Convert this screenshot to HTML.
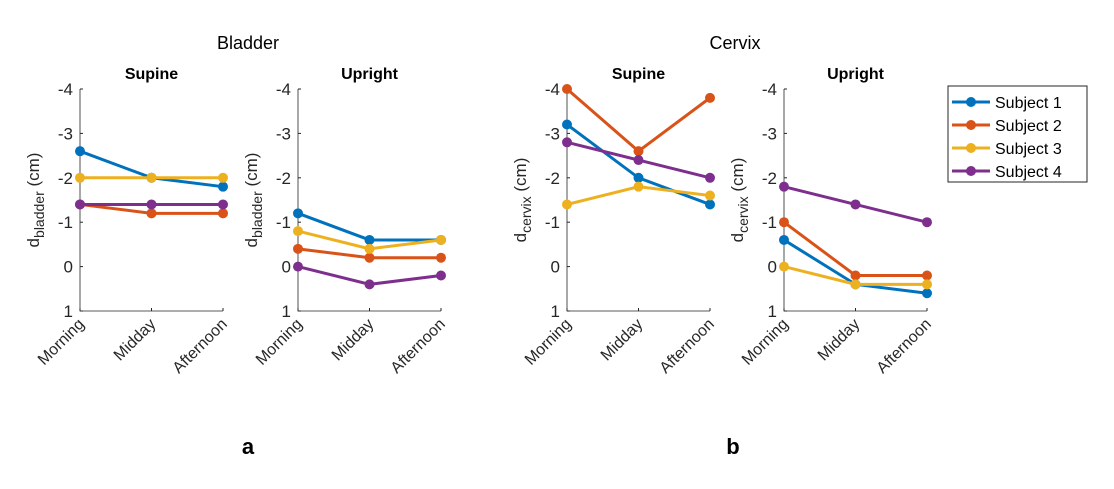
<!DOCTYPE html>
<html><head><meta charset="utf-8"><style>
body{margin:0;background:#fff;width:1114px;height:484px;overflow:hidden}
svg{font-family:"Liberation Sans",sans-serif}
</style></head><body>
<svg id="chart" width="1114" height="484" xmlns="http://www.w3.org/2000/svg"></svg>
<script>
const categories=["Morning","Midday","Afternoon"];
const subjects=["Subject 1","Subject 2","Subject 3","Subject 4"];
const colors=["#0072bd","#d95319","#edb120","#7e2f8e"];
const yTicks=[-4,-3,-2,-1,0,1];
const bladderSupine=[[-2.6,-2.0,-1.8],[-1.4,-1.2,-1.2],[-2.0,-2.0,-2.0],[-1.4,-1.4,-1.4]];
const bladderUpright=[[-1.2,-0.6,-0.6],[-0.4,-0.2,-0.2],[-0.8,-0.4,-0.6],[0,0.4,0.2]];
const cervixSupine=[[-3.2,-2.0,-1.4],[-4.0,-2.6,-3.8],[-1.4,-1.8,-1.6],[-2.8,-2.4,-2.0]];
const cervixUpright=[[-0.6,0.4,0.6],[-1.0,0.2,0.2],[0,0.4,0.4],[-1.8,-1.4,-1.0]];
const svg=document.getElementById('chart');
const NS="http://www.w3.org/2000/svg";
function mk(tag,attrs,parent,text){const e=document.createElementNS(NS,tag);for(const k in attrs)e.setAttribute(k,attrs[k]);if(text!==undefined)e.textContent=text;(parent||svg).appendChild(e);return e;}
const panels=[
 {x0:80,title:"Supine",data:bladderSupine,lab:"bladder",name:"bladder-supine"},
 {x0:298,title:"Upright",data:bladderUpright,lab:"bladder",name:"bladder-upright"},
 {x0:567,title:"Supine",data:cervixSupine,lab:"cervix",name:"cervix-supine"},
 {x0:784,title:"Upright",data:cervixUpright,lab:"cervix",name:"cervix-upright"}];
const W=143,yTop=89,yBot=311;
panels.forEach(p=>{
 const g=mk('g',{});
 
 
 const xs=i=>p.x0+i*W/(categories.length-1);
 const ys=v=>yTop+(v-yTicks[0])/(yTicks[yTicks.length-1]-yTicks[0])*(yBot-yTop);
 const ax=mk('path',{d:`M${p.x0} ${yTop}V${yBot}H${p.x0+W}`,stroke:'#262626','stroke-width':0.8,fill:'none'},g);
 
 
 yTicks.forEach(t=>{const y=ys(t);mk('line',{x1:p.x0,x2:p.x0+3,y1:y,y2:y,stroke:'#262626'},g);
  const tl=mk('text',{x:p.x0-7,y:y+6,'text-anchor':'end','font-size':17,fill:'#262626'},g,String(t));
  
  });
 categories.forEach((c,i)=>{const x=xs(i);mk('line',{x1:x,x2:x,y1:yBot,y2:yBot-3,stroke:'#262626'},g);
  const tl=mk('text',{x:x+5,y:yBot+14,'text-anchor':'end','font-size':16,fill:'#262626',transform:`rotate(-45 ${x+5} ${yBot+14})`},g,c);
  
  });
 const tt=mk('text',{x:p.x0+W/2,y:79,'text-anchor':'middle','font-size':16,'font-weight':'bold'},g,p.title);
 
 
 const yl=mk('text',{x:0,y:0,'text-anchor':'middle','font-size':17,fill:'#262626',transform:`translate(${p.x0-41} ${(yTop+yBot)/2}) rotate(-90)`},g);
 
 
 mk('tspan',{},yl,'d');mk('tspan',{dy:5,'font-size':14},yl,p.lab);mk('tspan',{dy:-5},yl,' (cm)');
 p.data.forEach((s,si)=>{
  const pl=mk('polyline',{points:s.map((v,i)=>xs(i)+','+ys(v)).join(' '),fill:'none',stroke:colors[si],'stroke-width':3},g);
  
  
  s.forEach((v,i)=>{const c=mk('circle',{cx:xs(i),cy:ys(v),r:5,fill:colors[si]},g);
   
   });
 });
});
[[248,"Bladder","bladder-title"],[735,"Cervix","cervix-title"]].forEach(a=>{const t=mk('text',{x:a[0],y:49,'text-anchor':'middle','font-size':18},svg,a[1]);
 
 });
[[248,"a","label-a"],[733,"b","label-b"]].forEach(a=>{const t=mk('text',{x:a[0],y:454,'text-anchor':'middle','font-size':22,'font-weight':'bold'},svg,a[1]);
 
 });
const lg=mk('g',{});


mk('rect',{x:948,y:86,width:139,height:96,fill:'#fff',stroke:'#262626','stroke-width':1},lg);
subjects.forEach((s,i)=>{const y=102+i*23;
 const e=mk('g',{},lg);
 
 
 mk('line',{x1:952,x2:990,y1:y,y2:y,stroke:colors[i],'stroke-width':3},e);
 mk('circle',{cx:971,cy:y,r:5,fill:colors[i]},e);
 mk('text',{x:995,y:y+6,'font-size':16},e,s);});
</script>
</body></html>
